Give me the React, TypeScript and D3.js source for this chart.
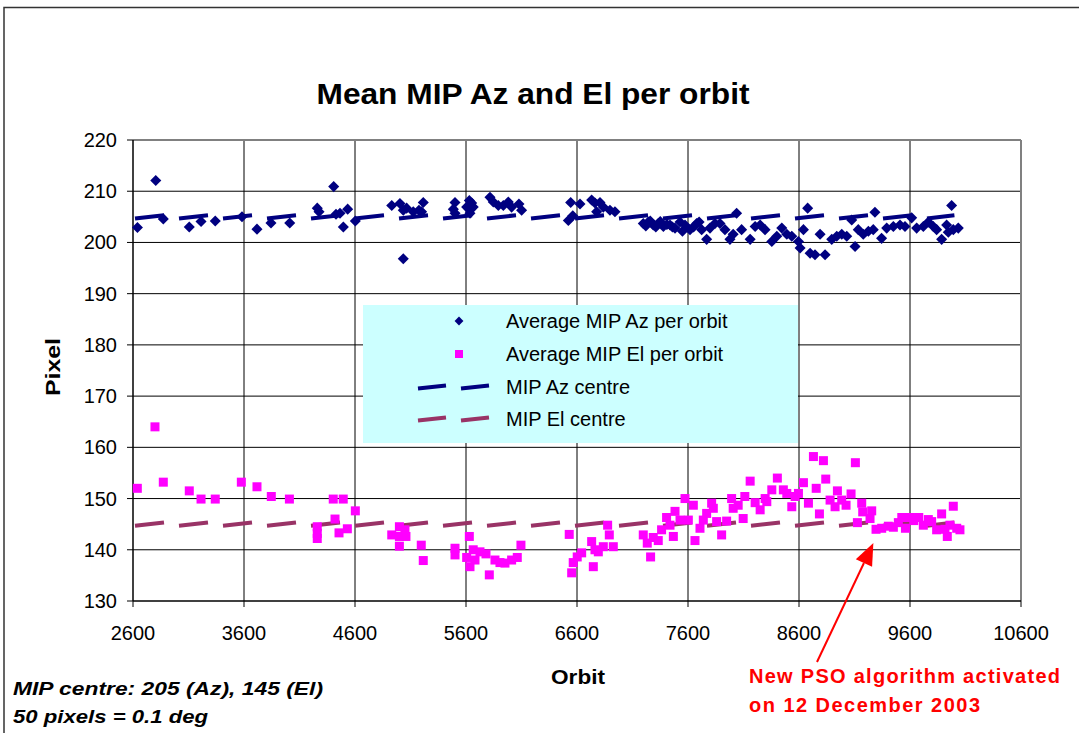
import React from "react";
import * as d3 from "d3";

const azOrbit = [2640,2805,2873,3107,3213,3341,3582,3717,3843,4012,4260,4276,4408,4429,4465,4495,4534,4603,4931,5005,5035,5035,5065,5125,5176,5200,5215,5486,5501,5501,5606,5630,5636,5651,5665,5816,5846,5891,5936,5981,6011,6077,6101,6522,6543,6562,6627,6732,6762,6777,6807,6837,6897,6942,7197,7220,7242,7260,7287,7310,7332,7350,7378,7410,7438,7460,7483,7528,7550,7573,7618,7650,7678,7700,7723,7768,7798,7843,7888,7933,7978,8007,8038,8083,8160,8205,8250,8294,8355,8400,8445,8490,8535,8595,8610,8640,8678,8700,8744,8790,8835,8895,8940,8985,9030,9075,9105,9134,9179,9225,9269,9284,9344,9390,9450,9510,9555,9615,9660,9720,9765,9810,9840,9885,9930,9945,9975,9990,10035];
const azValue = [202.9,212.1,204.6,203.0,204.1,204.2,205.0,202.6,203.8,203.8,206.7,206.0,210.9,205.5,205.7,203.0,206.5,204.2,207.2,207.6,206.3,196.8,206.7,206.0,206.3,206.0,207.8,206.5,207.8,205.7,206.9,208.2,205.7,207.7,206.9,208.8,207.9,207.2,207.2,207.9,206.9,207.5,206.3,204.3,207.8,205.2,207.5,208.3,207.7,206.0,207.8,206.9,206.3,206.0,203.7,203.2,204.0,204.2,203.4,203.0,203.7,204.1,203.1,203.5,203.4,203.0,202.8,204.0,202.2,203.4,202.5,203.0,203.7,204.0,202.5,200.6,202.8,203.7,203.7,202.5,200.6,201.6,205.7,202.5,200.6,203.1,203.4,202.5,200.2,201.2,202.8,201.6,201.2,200.2,198.9,202.5,206.7,197.9,197.6,201.6,197.6,200.6,201.2,201.6,201.2,204.4,199.2,202.5,201.6,202.2,202.5,205.9,200.8,202.8,203.1,203.4,203.1,204.8,202.8,203.1,204.0,203.1,202.5,200.6,203.4,202.0,207.2,202.5,202.8];

const elOrbit = [2639,2798,2873,3107,3213,3341,3576,3717,3846,4009,4260,4260,4260,4404,4420,4456,4494,4531,4603,4931,5000,5000,5000,5050,5059,5197,5215,5501,5501,5606,5630,5636,5665,5681,5726,5780,5810,5861,5906,5951,6011,6062,6095,6530,6552,6566,6602,6642,6732,6747,6762,6792,6837,6876,6891,6927,7197,7233,7263,7287,7332,7362,7407,7438,7468,7483,7528,7573,7603,7648,7663,7708,7738,7768,7813,7828,7858,7903,7948,7993,8007,8052,8097,8112,8160,8205,8250,8295,8310,8355,8405,8459,8490,8535,8565,8595,8640,8685,8730,8755,8784,8820,8841,8880,8925,8946,8985,9024,9069,9108,9126,9165,9174,9240,9255,9294,9345,9405,9450,9495,9526,9559,9604,9634,9679,9720,9765,9795,9840,9885,9915,9936,9960,9990,10021,10050];
const elValue = [152.0,164.0,153.2,151.5,149.9,149.9,153.2,152.3,150.4,149.9,144.5,143.2,142.2,149.9,146.0,143.3,149.9,144.1,147.6,142.9,144.5,142.6,140.7,143.9,142.6,140.9,137.9,140.3,139.0,138.5,142.6,136.7,140.0,138.0,139.6,139.2,135.1,138.0,137.5,137.4,138.0,138.5,140.9,143.0,135.5,137.5,138.6,139.4,141.6,136.7,140.0,139.6,140.6,144.8,142.9,140.6,142.9,141.3,138.6,142.4,141.8,143.9,146.3,144.8,142.6,147.5,145.8,150.0,145.8,148.7,141.8,144.2,145.8,147.1,149.1,148.1,145.5,142.9,145.6,150.0,148.1,148.7,146.1,150.4,153.4,149.2,147.8,150.0,149.4,151.7,154.0,151.7,151.0,148.4,150.4,151.0,153.1,149.1,158.2,152.0,147.0,157.4,153.8,149.7,148.4,151.5,149.7,148.7,150.9,157.0,145.3,149.1,147.4,146.1,147.6,144.0,144.2,144.6,144.4,145.3,146.3,144.2,146.3,145.7,146.3,144.8,145.9,145.5,143.9,147.0,144.0,142.6,144.8,148.5,144.2,143.9];

const azCentreOrbit = [2600, 10000];
const azCentreValue = [205, 205];
const elCentreOrbit = [2600, 10000];
const elCentreValue = [145, 145];

const xTicks = [2600, 3600, 4600, 5600, 6600, 7600, 8600, 9600, 10600];
const yTicks = [130, 140, 150, 160, 170, 180, 190, 200, 210, 220];

const legendLabels = ["Average MIP Az per orbit", "Average MIP El per orbit", "MIP Az centre", "MIP El centre"];
const title = "Mean MIP Az and El per orbit";
const noteLines = ["MIP centre: 205 (Az), 145 (El)", "50 pixels = 0.1 deg"];
const psoLines = ["New PSO algorithm activated", "on 12 December 2003"];
const psoPoint = { orbit: 9270, value: 141.3 };

const AZ = "#000080";
const EL = "#FF00FF";
const ELC = "#993366";
const FONT = "Arial, 'Liberation Sans', sans-serif";

function dashes(x0: number, x1: number, y: number, dash: number, gap: number) {
  const segs: [number, number, number, number][] = [];
  for (let s = x0; s < x1; s += dash + gap) {
    const e = Math.min(s + dash, x1);
    segs.push([s, y + 1.6, e, y - 1.6]);
  }
  return segs;
}

export default function App() {
  const x = d3.scaleLinear().domain([2600, 10600]).range([133, 1021]);
  const y = d3.scaleLinear().domain([130, 220]).range([601, 140]);

  const az = azOrbit.map((o, i) => [x(o), y(azValue[i])]);
  const el = elOrbit.map((o, i) => [x(o), y(elValue[i])]);
  const diamond = d3.symbol().type(d3.symbolDiamond2).size(78)();
  const legDiamond = d3.symbol().type(d3.symbolDiamond2).size(50)();
  const sq = 9;

  const azD = dashes(x(azCentreOrbit[0]) + 2, x(azCentreOrbit[1]), y(azCentreValue[0]), 29, 15);
  const elD = dashes(x(elCentreOrbit[0]) + 2, x(elCentreOrbit[1]), y(elCentreValue[0]), 29, 15);

  const tipX = x(psoPoint.orbit);
  const tipY = y(psoPoint.value);
  const tailX = 817, tailY = 662;
  const ang = Math.atan2(tipY - tailY, tipX - tailX);
  const hl = 22, hw = 9;
  const bx = tipX - hl * Math.cos(ang), by = tipY - hl * Math.sin(ang);
  const head = `M${tipX},${tipY} L${bx + hw * Math.sin(ang)},${by - hw * Math.cos(ang)} L${bx - hw * Math.sin(ang)},${by + hw * Math.cos(ang)} Z`;

  const legRows = [321, 354, 387, 419];

  return (
    <svg width={1079} height={733} style={{ position: "absolute", left: 0, top: 0, background: "#fff" }} fontFamily={FONT}>
      <rect x={0} y={0} width={1079} height={733} fill="#fff" />
      <path d="M4,733 L4,7.5 L1079,7.5" fill="none" stroke="#333" strokeWidth={1.5} />
      <text x={533} y={104} textAnchor="middle" fontSize={30} fontWeight="bold" textLength={433} lengthAdjust="spacingAndGlyphs">{title}</text>

      {yTicks.slice(1, -1).map((t) => (
        <line key={"gy" + t} x1={x(2600)} x2={x(10600)} y1={y(t)} y2={y(t)} stroke="#000" strokeWidth={1} />
      ))}
      {xTicks.slice(1, -1).map((t) => (
        <line key={"gx" + t} x1={x(t)} x2={x(t)} y1={y(130)} y2={y(220)} stroke="#000" strokeWidth={1} />
      ))}
      <line x1={x(2600)} x2={x(10600)} y1={y(220)} y2={y(220)} stroke="#808080" strokeWidth={2} />
      <line x1={x(10600)} x2={x(10600)} y1={y(220)} y2={y(130)} stroke="#808080" strokeWidth={2} />

      <line x1={x(2600)} x2={x(2600)} y1={y(220)} y2={y(130)} stroke="#000" strokeWidth={1.5} />
      <line x1={x(2600)} x2={x(10600)} y1={y(130)} y2={y(130)} stroke="#000" strokeWidth={1.5} />
      {yTicks.map((t) => (
        <g key={"yt" + t}>
          <line x1={x(2600) - 6} x2={x(2600)} y1={y(t)} y2={y(t)} stroke="#000" strokeWidth={1} />
          <text x={117} y={y(t)} dy="0.35em" textAnchor="end" fontSize={20}>{t}</text>
        </g>
      ))}
      {xTicks.map((t) => (
        <g key={"xt" + t}>
          <line x1={x(t)} x2={x(t)} y1={y(130)} y2={y(130) + 6} stroke="#000" strokeWidth={1} />
          <text x={x(t)} y={640} textAnchor="middle" fontSize={20}>{t}</text>
        </g>
      ))}
      <text transform="translate(60,367) rotate(-90)" textAnchor="middle" fontSize={21} fontWeight="bold" textLength={58} lengthAdjust="spacingAndGlyphs">Pixel</text>
      <text x={578} y={684} textAnchor="middle" fontSize={21} fontWeight="bold" textLength={54} lengthAdjust="spacingAndGlyphs">Orbit</text>

      <rect x={363} y={305} width={435} height={138} fill="#CCFFFF" />
      <path d={legDiamond} transform={`translate(459,${legRows[0]})`} fill={AZ} />
      <rect x={459 - 4} y={legRows[1] - 4} width={8} height={8} fill={EL} />
      {[[418, 446], [461, 489]].map(([a, b], i) => (
        <g key={"ld" + i}>
          <line x1={a} x2={b} y1={legRows[2] + 1.5} y2={legRows[2] - 1.5} stroke={AZ} strokeWidth={4} />
          <line x1={a} x2={b} y1={legRows[3] + 1.5} y2={legRows[3] - 1.5} stroke={ELC} strokeWidth={4} />
        </g>
      ))}
      {legendLabels.map((l, i) => (
        <text key={l} x={506} y={legRows[i]} dy="0.35em" fontSize={20}>{l}</text>
      ))}

      {azD.map((s, i) => (
        <line key={"ad" + i} x1={s[0]} y1={s[1]} x2={s[2]} y2={s[3]} stroke={AZ} strokeWidth={4} />
      ))}
      {elD.map((s, i) => (
        <line key={"ed" + i} x1={s[0]} y1={s[1]} x2={s[2]} y2={s[3]} stroke={ELC} strokeWidth={4} />
      ))}

      {az.map((p, i) => (
        <path key={"a" + i} d={diamond} transform={`translate(${p[0]},${p[1]})`} fill={AZ} />
      ))}
      {el.map((p, i) => (
        <rect key={"e" + i} x={p[0] - sq / 2} y={p[1] - sq / 2} width={sq} height={sq} fill={EL} />
      ))}

      {noteLines.map((l, i) => (
        <text key={l} x={13} y={695 + i * 28} fontSize={19} fontWeight="bold" fontStyle="italic" textLength={i === 0 ? 310 : 195} lengthAdjust="spacingAndGlyphs">{l}</text>
      ))}
      <line x1={tailX} y1={tailY} x2={bx} y2={by} stroke="red" strokeWidth={2} />
      <path d={head} fill="red" />
      {psoLines.map((l, i) => (
        <text key={l} x={749} y={683 + i * 29} fontSize={20} fontWeight="bold" fill="red" textLength={i === 0 ? 311 : 231} lengthAdjust="spacing">{l}</text>
      ))}
    </svg>
  );
}
